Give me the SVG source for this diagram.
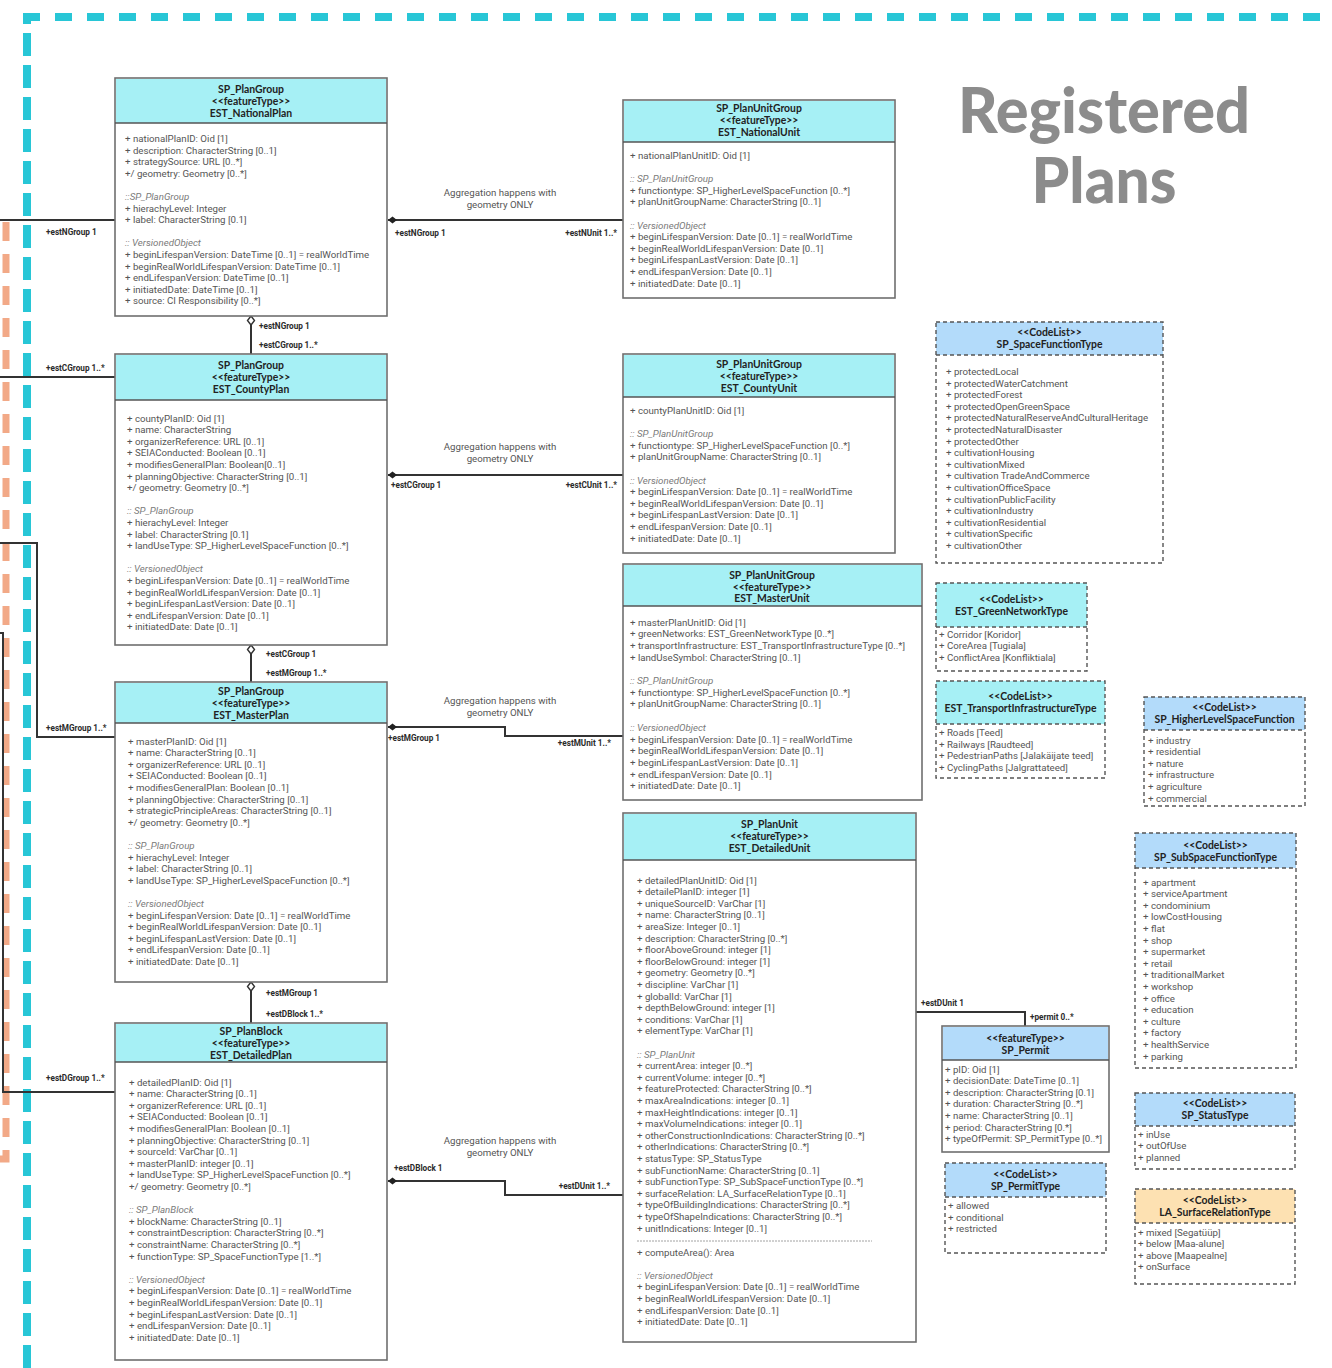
<svg xmlns="http://www.w3.org/2000/svg" width="1332" height="1368" viewBox="0 0 1332 1368">
<style>
.box{fill:#fff;stroke:#6f6f6f;stroke-width:1.6}
.sep{stroke:#555;stroke-width:1.4}
.ft{fill:#a6f0f5}
.bl{fill:#b3dbfa}
.or{fill:#fde1b2}
.cl{fill:none;stroke:#555;stroke-width:1.4;stroke-dasharray:4 3}
.clsep{stroke:#555;stroke-width:1.6;stroke-dasharray:4 3}
.h{font-family:Lato,"Open Sans",sans-serif;font-weight:700;font-size:10.4px;fill:#222;text-anchor:middle}
.a{font-family:Roboto,"Liberation Sans",sans-serif;font-size:9.7px;fill:#555}
.i{font-style:italic;fill:#7a7a7a}
.lb{font-family:Roboto,"Liberation Sans",sans-serif;font-weight:700;font-size:8.2px;fill:#2a2a2a}
.nt{font-family:Roboto,"Liberation Sans",sans-serif;font-size:9.7px;fill:#555;text-anchor:middle}
.w{fill:none;stroke:#333;stroke-width:2}
.dm{fill:#222}
.od{fill:#fff;stroke:#333;stroke-width:1.4}
.title{font-family:Lato,"Open Sans",sans-serif;font-weight:900;font-size:62px;fill:#8c8c8c;text-anchor:middle}
</style>
<defs>
<path id="fdia" d="M0,0 l4.5,-3.5 l4.5,3.5 l-4.5,3.5 z"/>
<path id="odia" d="M0,0 l3.5,4.5 l-3.5,4.5 l-3.5,-4.5 z"/>
</defs>

<!-- package frame -->
<g id="frame">
<line x1="27" y1="1368" x2="27" y2="21" stroke="#28c6d6" stroke-width="8" stroke-dasharray="23 9"/>
<line x1="23" y1="17" x2="1332" y2="17" stroke="#28c6d6" stroke-width="8" stroke-dasharray="17 15"/>
<path d="M6,222 V1159 H0" fill="none" stroke="#f2a987" stroke-width="7" stroke-dasharray="19 13"/>
</g>

<g id="title">
<text class="title" x="1104" y="133" textLength="292" lengthAdjust="spacingAndGlyphs">Registered</text>
<text class="title" x="1104" y="203" textLength="145" lengthAdjust="spacingAndGlyphs">Plans</text>
</g>

<!-- associations -->
<g id="connectors">
<line class="w" x1="0" y1="220" x2="115" y2="220"/>
<line class="w" x1="0" y1="377" x2="115" y2="377"/>
<path class="w" d="M0,543 H37 V737 H115"/>
<path class="w" d="M0,633 H3 V1092 H115"/>
<text class="lb" x="46" y="234.5">+estNGroup 1</text>
<text class="lb" x="46" y="370.5">+estCGroup 1..*</text>
<text class="lb" x="46" y="731">+estMGroup 1..*</text>
<text class="lb" x="46" y="1081">+estDGroup 1..*</text>

<line class="w" x1="251" y1="316" x2="251" y2="354"/>
<line class="w" x1="251" y1="645" x2="251" y2="682"/>
<line class="w" x1="251" y1="982" x2="251" y2="1023"/>
<use href="#odia" x="251" y="316" class="od"/>
<use href="#odia" x="251" y="645" class="od"/>
<use href="#odia" x="251" y="982" class="od"/>
<text class="lb" x="259" y="328.5">+estNGroup 1</text>
<text class="lb" x="259" y="347.5">+estCGroup 1..*</text>
<text class="lb" x="266" y="656.5">+estCGroup 1</text>
<text class="lb" x="266" y="676">+estMGroup 1..*</text>
<text class="lb" x="266" y="996">+estMGroup 1</text>
<text class="lb" x="266" y="1016.5">+estDBlock 1..*</text>

<line class="w" x1="388" y1="220" x2="623" y2="220"/>
<use href="#fdia" x="388" y="220" class="dm"/>
<text class="lb" x="395" y="235.5">+estNGroup 1</text>
<text class="lb" x="617" y="235.5" text-anchor="end">+estNUnit 1..*</text>
<text class="nt" x="500" y="195.5">Aggregation happens with</text>
<text class="nt" x="500" y="207.5">geometry ONLY</text>

<line class="w" x1="388" y1="475" x2="623" y2="475"/>
<use href="#fdia" x="388" y="475" class="dm"/>
<text class="lb" x="391" y="488">+estCGroup 1</text>
<text class="lb" x="617" y="488" text-anchor="end">+estCUnit 1..*</text>
<text class="nt" x="500" y="450">Aggregation happens with</text>
<text class="nt" x="500" y="461.5">geometry ONLY</text>

<path class="w" d="M388,727 H505 V736 H623"/>
<use href="#fdia" x="388" y="727" class="dm"/>
<text class="lb" x="388" y="741">+estMGroup 1</text>
<text class="lb" x="611" y="746" text-anchor="end">+estMUnit 1..*</text>
<text class="nt" x="500" y="703.5">Aggregation happens with</text>
<text class="nt" x="500" y="715.5">geometry ONLY</text>

<path class="w" d="M388,1181 H505 V1195 H623"/>
<use href="#fdia" x="388" y="1181" class="dm"/>
<text class="lb" x="394" y="1171">+estDBlock 1</text>
<text class="lb" x="610" y="1188.5" text-anchor="end">+estDUnit 1..*</text>
<text class="nt" x="500" y="1143.5">Aggregation happens with</text>
<text class="nt" x="500" y="1155.5">geometry ONLY</text>

<path class="w" d="M916,1012 H1025 V1026"/>
<text class="lb" x="921" y="1005.5">+estDUnit 1</text>
<text class="lb" x="1030" y="1019.5">+permit 0..*</text>
</g>

<!-- feature types: plans -->
<g id="EST_NationalPlan">
<rect class="box" x="115" y="78" width="272" height="238"/>
<rect class="ft" x="116" y="79" width="270" height="44"/>
<line class="sep" x1="115" y1="123" x2="387" y2="123"/>
<text class="h" x="251" y="92.5">SP_PlanGroup</text>
<text class="h" x="251" y="104.5">&lt;&lt;featureType&gt;&gt;</text>
<text class="h" x="251" y="116.5">EST_NationalPlan</text>
<text class="a" x="125" y="142"><tspan x="125">+ nationalPlanID: Oid [1]</tspan><tspan x="125" dy="11.6">+ description: CharacterString [0..1]</tspan><tspan x="125" dy="11.6">+ strategySource: URL [0..*]</tspan><tspan x="125" dy="11.6">+/ geometry: Geometry [0..*]</tspan><tspan x="125" dy="23.2" class="i">::SP_PlanGroup</tspan><tspan x="125" dy="11.6">+ hierachyLevel: Integer</tspan><tspan x="125" dy="11.6">+ label: CharacterString [0.1]</tspan><tspan x="125" dy="23.2" class="i">:: VersionedObject</tspan><tspan x="125" dy="11.6">+ beginLifespanVersion: DateTime [0..1] = realWorldTime</tspan><tspan x="125" dy="11.6">+ beginRealWorldLifespanVersion: DateTime [0..1]</tspan><tspan x="125" dy="11.6">+ endLifespanVersion: DateTime [0..1]</tspan><tspan x="125" dy="11.6">+ initiatedDate: DateTime [0..1]</tspan><tspan x="125" dy="11.6">+ source: CI Responsibility [0..*]</tspan></text>
</g>

<g id="EST_CountyPlan">
<rect class="box" x="115" y="354" width="272" height="291"/>
<rect class="ft" x="116" y="355" width="270" height="45"/>
<line class="sep" x1="115" y1="400" x2="387" y2="400"/>
<text class="h" x="251" y="368.5">SP_PlanGroup</text>
<text class="h" x="251" y="380.5">&lt;&lt;featureType&gt;&gt;</text>
<text class="h" x="251" y="392.5">EST_CountyPlan</text>
<text class="a" x="127" y="421.5"><tspan x="127">+ countyPlanID: Oid [1]</tspan><tspan x="127" dy="11.6">+ name: CharacterString</tspan><tspan x="127" dy="11.6">+ organizerReference: URL [0..1]</tspan><tspan x="127" dy="11.6">+ SEIAConducted: Boolean [0..1]</tspan><tspan x="127" dy="11.6">+ modifiesGeneralPlan: Boolean[0..1]</tspan><tspan x="127" dy="11.6">+ planningObjective: CharacterString [0..1]</tspan><tspan x="127" dy="11.6">+/ geometry: Geometry [0..*]</tspan><tspan x="127" dy="23.2" class="i">:: SP_PlanGroup</tspan><tspan x="127" dy="11.6">+ hierachyLevel: Integer</tspan><tspan x="127" dy="11.6">+ label: CharacterString [0.1]</tspan><tspan x="127" dy="11.6">+ landUseType: SP_HigherLevelSpaceFunction [0..*]</tspan><tspan x="127" dy="23.2" class="i">:: VersionedObject</tspan><tspan x="127" dy="11.6">+ beginLifespanVersion: Date [0..1] = realWorldTime</tspan><tspan x="127" dy="11.6">+ beginRealWorldLifespanVersion: Date [0..1]</tspan><tspan x="127" dy="11.6">+ beginLifespanLastVersion: Date [0..1]</tspan><tspan x="127" dy="11.6">+ endLifespanVersion: Date [0..1]</tspan><tspan x="127" dy="11.6">+ initiatedDate: Date [0..1]</tspan></text>
</g>

<g id="EST_MasterPlan">
<rect class="box" x="115" y="682" width="272" height="300"/>
<rect class="ft" x="116" y="683" width="270" height="40"/>
<line class="sep" x1="115" y1="723" x2="387" y2="723"/>
<text class="h" x="251" y="694.5">SP_PlanGroup</text>
<text class="h" x="251" y="706.5">&lt;&lt;featureType&gt;&gt;</text>
<text class="h" x="251" y="718.5">EST_MasterPlan</text>
<text class="a" x="128" y="744.5"><tspan x="128">+ masterPlanID: Oid [1]</tspan><tspan x="128" dy="11.6">+ name: CharacterString [0..1]</tspan><tspan x="128" dy="11.6">+ organizerReference: URL [0..1]</tspan><tspan x="128" dy="11.6">+ SEIAConducted: Boolean [0..1]</tspan><tspan x="128" dy="11.6">+ modifiesGeneralPlan: Boolean [0..1]</tspan><tspan x="128" dy="11.6">+ planningObjective: CharacterString [0..1]</tspan><tspan x="128" dy="11.6">+ strategicPrincipleAreas: CharacterString [0..1]</tspan><tspan x="128" dy="11.6">+/ geometry: Geometry [0..*]</tspan><tspan x="128" dy="23.2" class="i">:: SP_PlanGroup</tspan><tspan x="128" dy="11.6">+ hierachyLevel: Integer</tspan><tspan x="128" dy="11.6">+ label: CharacterString [0..1]</tspan><tspan x="128" dy="11.6">+ landUseType: SP_HigherLevelSpaceFunction [0..*]</tspan><tspan x="128" dy="23.2" class="i">:: VersionedObject</tspan><tspan x="128" dy="11.6">+ beginLifespanVersion: Date [0..1] = realWorldTime</tspan><tspan x="128" dy="11.6">+ beginRealWorldLifespanVersion: Date [0..1]</tspan><tspan x="128" dy="11.6">+ beginLifespanLastVersion: Date [0..1]</tspan><tspan x="128" dy="11.6">+ endLifespanVersion: Date [0..1]</tspan><tspan x="128" dy="11.6">+ initiatedDate: Date [0..1]</tspan></text>
</g>

<g id="EST_DetailedPlan">
<rect class="box" x="115" y="1023" width="272" height="337"/>
<rect class="ft" x="116" y="1024" width="270" height="38"/>
<line class="sep" x1="115" y1="1062" x2="387" y2="1062"/>
<text class="h" x="251" y="1034.5">SP_PlanBlock</text>
<text class="h" x="251" y="1046.5">&lt;&lt;featureType&gt;&gt;</text>
<text class="h" x="251" y="1058.5">EST_DetailedPlan</text>
<text class="a" x="129" y="1085.5"><tspan x="129">+ detailedPlanID: Oid [1]</tspan><tspan x="129" dy="11.6">+ name: CharacterString [0..1]</tspan><tspan x="129" dy="11.6">+ organizerReference: URL [0..1]</tspan><tspan x="129" dy="11.6">+ SEIAConducted: Boolean [0..1]</tspan><tspan x="129" dy="11.6">+ modifiesGeneralPlan: Boolean [0..1]</tspan><tspan x="129" dy="11.6">+ planningObjective: CharacterString [0..1]</tspan><tspan x="129" dy="11.6">+ sourceId: VarChar [0..1]</tspan><tspan x="129" dy="11.6">+ masterPlanID: integer [0..1]</tspan><tspan x="129" dy="11.6">+ landUseType: SP_HigherLevelSpaceFunction [0..*]</tspan><tspan x="129" dy="11.6">+/ geometry: Geometry [0..*]</tspan><tspan x="129" dy="23.2" class="i">:: SP_PlanBlock</tspan><tspan x="129" dy="11.6">+ blockName: CharacterString [0..1]</tspan><tspan x="129" dy="11.6">+ constraintDescription: CharacterString [0..*]</tspan><tspan x="129" dy="11.6">+ constraintName: CharacterString [0..*]</tspan><tspan x="129" dy="11.6">+ functionType: SP_SpaceFunctionType [1..*]</tspan><tspan x="129" dy="23.2" class="i">:: VersionedObject</tspan><tspan x="129" dy="11.6">+ beginLifespanVersion: Date [0..1] = realWorldTime</tspan><tspan x="129" dy="11.6">+ beginRealWorldLifespanVersion: Date [0..1]</tspan><tspan x="129" dy="11.6">+ beginLifespanLastVersion: Date [0..1]</tspan><tspan x="129" dy="11.6">+ endLifespanVersion: Date [0..1]</tspan><tspan x="129" dy="11.6">+ initiatedDate: Date [0..1]</tspan></text>
</g>

<!-- feature types: units -->
<g id="EST_NationalUnit">
<rect class="box" x="623" y="100" width="272" height="198"/>
<rect class="ft" x="624" y="101" width="270" height="41"/>
<line class="sep" x1="623" y1="142" x2="895" y2="142"/>
<text class="h" x="759" y="112">SP_PlanUnitGroup</text>
<text class="h" x="759" y="124">&lt;&lt;featureType&gt;&gt;</text>
<text class="h" x="759" y="136">EST_NationalUnit</text>
<text class="a" x="630" y="159"><tspan x="630">+ nationalPlanUnitID: Oid [1]</tspan><tspan x="630" dy="23.2" class="i">:: SP_PlanUnitGroup</tspan><tspan x="630" dy="11.6">+ functiontype: SP_HigherLevelSpaceFunction [0..*]</tspan><tspan x="630" dy="11.6">+ planUnitGroupName: CharacterString [0..1]</tspan><tspan x="630" dy="23.2" class="i">:: VersionedObject</tspan><tspan x="630" dy="11.6">+ beginLifespanVersion: Date [0..1] = realWorldTime</tspan><tspan x="630" dy="11.6">+ beginRealWorldLifespanVersion: Date [0..1]</tspan><tspan x="630" dy="11.6">+ beginLifespanLastVersion: Date [0..1]</tspan><tspan x="630" dy="11.6">+ endLifespanVersion: Date [0..1]</tspan><tspan x="630" dy="11.6">+ initiatedDate: Date [0..1]</tspan></text>
</g>

<g id="EST_CountyUnit">
<rect class="box" x="623" y="354" width="272" height="199"/>
<rect class="ft" x="624" y="355" width="270" height="42"/>
<line class="sep" x1="623" y1="397" x2="895" y2="397"/>
<text class="h" x="759" y="367.5">SP_PlanUnitGroup</text>
<text class="h" x="759" y="379.5">&lt;&lt;featureType&gt;&gt;</text>
<text class="h" x="759" y="391.5">EST_CountyUnit</text>
<text class="a" x="630" y="414"><tspan x="630">+ countyPlanUnitID: Oid [1]</tspan><tspan x="630" dy="23.2" class="i">:: SP_PlanUnitGroup</tspan><tspan x="630" dy="11.6">+ functiontype: SP_HigherLevelSpaceFunction [0..*]</tspan><tspan x="630" dy="11.6">+ planUnitGroupName: CharacterString [0..1]</tspan><tspan x="630" dy="23.2" class="i">:: VersionedObject</tspan><tspan x="630" dy="11.6">+ beginLifespanVersion: Date [0..1] = realWorldTime</tspan><tspan x="630" dy="11.6">+ beginRealWorldLifespanVersion: Date [0..1]</tspan><tspan x="630" dy="11.6">+ beginLifespanLastVersion: Date [0..1]</tspan><tspan x="630" dy="11.6">+ endLifespanVersion: Date [0..1]</tspan><tspan x="630" dy="11.6">+ initiatedDate: Date [0..1]</tspan></text>
</g>

<g id="EST_MasterUnit">
<rect class="box" x="623" y="564" width="299" height="236"/>
<rect class="ft" x="624" y="565" width="297" height="41"/>
<line class="sep" x1="623" y1="606" x2="922" y2="606"/>
<text class="h" x="772" y="578.5">SP_PlanUnitGroup</text>
<text class="h" x="772" y="590.5">&lt;&lt;featureType&gt;&gt;</text>
<text class="h" x="772" y="602">EST_MasterUnit</text>
<text class="a" x="630" y="625.5"><tspan x="630">+ masterPlanUnitID: Oid [1]</tspan><tspan x="630" dy="11.7">+ greenNetworks: EST_GreenNetworkType [0..*]</tspan><tspan x="630" dy="11.7">+ transportInfrastructure: EST_TransportInfrastructureType [0..*]</tspan><tspan x="630" dy="11.7">+ landUseSymbol: CharacterString [0..1]</tspan><tspan x="630" dy="23.4" class="i">:: SP_PlanUnitGroup</tspan><tspan x="630" dy="11.7">+ functiontype: SP_HigherLevelSpaceFunction [0..*]</tspan><tspan x="630" dy="11.7">+ planUnitGroupName: CharacterString [0..1]</tspan><tspan x="630" dy="23.4" class="i">:: VersionedObject</tspan><tspan x="630" dy="11.7">+ beginLifespanVersion: Date [0..1] = realWorldTime</tspan><tspan x="630" dy="11.7">+ beginRealWorldLifespanVersion: Date [0..1]</tspan><tspan x="630" dy="11.7">+ beginLifespanLastVersion: Date [0..1]</tspan><tspan x="630" dy="11.7">+ endLifespanVersion: Date [0..1]</tspan><tspan x="630" dy="11.7">+ initiatedDate: Date [0..1]</tspan></text>
</g>

<g id="EST_DetailedUnit">
<rect class="box" x="623" y="813" width="293" height="529"/>
<rect class="ft" x="624" y="814" width="291" height="46"/>
<line class="sep" x1="623" y1="860" x2="916" y2="860"/>
<text class="h" x="769.5" y="827.5">SP_PlanUnit</text>
<text class="h" x="769.5" y="839.5">&lt;&lt;featureType&gt;&gt;</text>
<text class="h" x="769.5" y="851.5">EST_DetailedUnit</text>
<text class="a" x="637" y="883.5"><tspan x="637">+ detailedPlanUnitID: Oid [1]</tspan><tspan x="637" dy="11.6">+ detailePlanID: integer [1]</tspan><tspan x="637" dy="11.6">+ uniqueSourceID: VarChar [1]</tspan><tspan x="637" dy="11.6">+ name: CharacterString [0..1]</tspan><tspan x="637" dy="11.6">+ areaSize: Integer [0..1]</tspan><tspan x="637" dy="11.6">+ description: CharacterString [0..*]</tspan><tspan x="637" dy="11.6">+ floorAboveGround: integer [1]</tspan><tspan x="637" dy="11.6">+ floorBelowGround: integer [1]</tspan><tspan x="637" dy="11.6">+ geometry: Geometry [0..*]</tspan><tspan x="637" dy="11.6">+ discipline: VarChar [1]</tspan><tspan x="637" dy="11.6">+ globalId: VarChar [1]</tspan><tspan x="637" dy="11.6">+ depthBelowGround: integer [1]</tspan><tspan x="637" dy="11.6">+ conditions: VarChar [1]</tspan><tspan x="637" dy="11.6">+ elementType: VarChar [1]</tspan><tspan x="637" dy="23.2" class="i">:: SP_PlanUnit</tspan><tspan x="637" dy="11.6">+ currentArea: integer [0..*]</tspan><tspan x="637" dy="11.6">+ currentVolume: integer [0..*]</tspan><tspan x="637" dy="11.6">+ featureProtected: CharacterString [0..*]</tspan><tspan x="637" dy="11.6">+ maxAreaIndications: integer [0..1]</tspan><tspan x="637" dy="11.6">+ maxHeightIndications: integer [0..1]</tspan><tspan x="637" dy="11.6">+ maxVolumeIndications: integer [0..1]</tspan><tspan x="637" dy="11.6">+ otherConstructionIndications: CharacterString [0..*]</tspan><tspan x="637" dy="11.6">+ otherIndications: CharacterString [0..*]</tspan><tspan x="637" dy="11.6">+ statusType: SP_StatusType</tspan><tspan x="637" dy="11.6">+ subFunctionName: CharacterString [0..1]</tspan><tspan x="637" dy="11.6">+ subFunctionType: SP_SubSpaceFunctionType [0..*]</tspan><tspan x="637" dy="11.6">+ surfaceRelation: LA_SurfaceRelationType [0..1]</tspan><tspan x="637" dy="11.6">+ typeOfBuildingIndications: CharacterString [0..*]</tspan><tspan x="637" dy="11.6">+ typeOfShapeIndications: CharacterString [0..*]</tspan><tspan x="637" dy="11.6">+ unitIndications: Integer [0..1]</tspan></text>
<line x1="637" y1="1241" x2="872" y2="1241" stroke="#8a8a8a" stroke-width="0.8" stroke-dasharray="2 1"/>
<text class="a" x="637" y="1255.5"><tspan x="637">+ computeArea(): Area</tspan><tspan x="637" dy="23.2" class="i">:: VersionedObject</tspan><tspan x="637" dy="11.6">+ beginLifespanVersion: Date [0..1] = realWorldTime</tspan><tspan x="637" dy="11.6">+ beginRealWorldLifespanVersion: Date [0..1]</tspan><tspan x="637" dy="11.6">+ endLifespanVersion: Date [0..1]</tspan><tspan x="637" dy="11.6">+ initiatedDate: Date [0..1]</tspan></text>
</g>

<g id="SP_Permit">
<rect class="box" x="942" y="1026" width="167" height="126"/>
<rect class="bl" x="943" y="1027" width="165" height="33"/>
<line class="sep" x1="942" y1="1060" x2="1109" y2="1060"/>
<text class="h" x="1025.5" y="1041.5">&lt;&lt;featureType&gt;&gt;</text>
<text class="h" x="1025.5" y="1053.5">SP_Permit</text>
<text class="a" x="945" y="1072.5"><tspan x="945">+ pID: Oid [1]</tspan><tspan x="945" dy="11.6">+ decisionDate: DateTime [0..1]</tspan><tspan x="945" dy="11.6">+ description: CharacterString [0.1]</tspan><tspan x="945" dy="11.6">+ duration: CharacterString [0..*]</tspan><tspan x="945" dy="11.6">+ name: CharacterString [0..1]</tspan><tspan x="945" dy="11.6">+ period: CharacterString [0.*]</tspan><tspan x="945" dy="11.6">+ typeOfPermit: SP_PermitType [0..*]</tspan></text>
</g>

<!-- code lists -->
<g id="SP_SpaceFunctionType">
<rect class="bl" x="936" y="322" width="227" height="33"/>
<line class="clsep" x1="936" y1="355" x2="1163" y2="355"/>
<rect class="cl" x="936" y="322" width="227" height="241"/>
<text class="h" x="1049.5" y="336">&lt;&lt;CodeList&gt;&gt;</text>
<text class="h" x="1049.5" y="348">SP_SpaceFunctionType</text>
<text class="a" x="946" y="375"><tspan x="946">+ protectedLocal</tspan><tspan x="946" dy="11.6">+ protectedWaterCatchment</tspan><tspan x="946" dy="11.6">+ protectedForest</tspan><tspan x="946" dy="11.6">+ protectedOpenGreenSpace</tspan><tspan x="946" dy="11.6">+ protectedNaturalReserveAndCulturalHeritage</tspan><tspan x="946" dy="11.6">+ protectedNaturalDisaster</tspan><tspan x="946" dy="11.6">+ protectedOther</tspan><tspan x="946" dy="11.6">+ cultivationHousing</tspan><tspan x="946" dy="11.6">+ cultivationMixed</tspan><tspan x="946" dy="11.6">+ cultivation TradeAndCommerce</tspan><tspan x="946" dy="11.6">+ cultivationOfficeSpace</tspan><tspan x="946" dy="11.6">+ cultivationPublicFacility</tspan><tspan x="946" dy="11.6">+ cultivationIndustry</tspan><tspan x="946" dy="11.6">+ cultivationResidential</tspan><tspan x="946" dy="11.6">+ cultivationSpecific</tspan><tspan x="946" dy="11.6">+ cultivationOther</tspan></text>
</g>

<g id="EST_GreenNetworkType">
<rect class="ft" x="936" y="583" width="151" height="44"/>
<line class="clsep" x1="936" y1="627" x2="1087" y2="627"/>
<rect class="cl" x="936" y="583" width="151" height="88"/>
<text class="h" x="1011.5" y="602.5">&lt;&lt;CodeList&gt;&gt;</text>
<text class="h" x="1011.5" y="614.5">EST_GreenNetworkType</text>
<text class="a" x="939" y="637.5"><tspan x="939">+ Corridor [Koridor]</tspan><tspan x="939" dy="11.6">+ CoreArea [Tugiala]</tspan><tspan x="939" dy="11.6">+ ConflictArea [Konfliktiala]</tspan></text>
</g>

<g id="EST_TransportInfrastructureType">
<rect class="ft" x="936" y="681" width="169" height="43"/>
<line class="clsep" x1="936" y1="724" x2="1105" y2="724"/>
<rect class="cl" x="936" y="681" width="169" height="97"/>
<text class="h" x="1020.5" y="700">&lt;&lt;CodeList&gt;&gt;</text>
<text class="h" x="1020.5" y="712">EST_TransportInfrastructureType</text>
<text class="a" x="939" y="736"><tspan x="939">+ Roads [Teed]</tspan><tspan x="939" dy="11.6">+ Railways [Raudteed]</tspan><tspan x="939" dy="11.6">+ PedestrianPaths [Jalakäijate teed]</tspan><tspan x="939" dy="11.6">+ CyclingPaths [Jalgrattateed]</tspan></text>
</g>

<g id="SP_HigherLevelSpaceFunction">
<rect class="bl" x="1144" y="697" width="161" height="33"/>
<line class="clsep" x1="1144" y1="730" x2="1305" y2="730"/>
<rect class="cl" x="1144" y="697" width="161" height="109"/>
<text class="h" x="1224.5" y="711">&lt;&lt;CodeList&gt;&gt;</text>
<text class="h" x="1224.5" y="723">SP_HigherLevelSpaceFunction</text>
<text class="a" x="1148" y="743.5"><tspan x="1148">+ industry</tspan><tspan x="1148" dy="11.6">+ residential</tspan><tspan x="1148" dy="11.6">+ nature</tspan><tspan x="1148" dy="11.6">+ infrastructure</tspan><tspan x="1148" dy="11.6">+ agriculture</tspan><tspan x="1148" dy="11.6">+ commercial</tspan></text>
</g>

<g id="SP_SubSpaceFunctionType">
<rect class="bl" x="1135" y="833" width="161" height="35"/>
<line class="clsep" x1="1135" y1="868" x2="1296" y2="868"/>
<rect class="cl" x="1135" y="833" width="161" height="235"/>
<text class="h" x="1215.5" y="848.5">&lt;&lt;CodeList&gt;&gt;</text>
<text class="h" x="1215.5" y="860.5">SP_SubSpaceFunctionType</text>
<text class="a" x="1143" y="885.5"><tspan x="1143">+ apartment</tspan><tspan x="1143" dy="11.6">+ serviceApartment</tspan><tspan x="1143" dy="11.6">+ condominium</tspan><tspan x="1143" dy="11.6">+ lowCostHousing</tspan><tspan x="1143" dy="11.6">+ flat</tspan><tspan x="1143" dy="11.6">+ shop</tspan><tspan x="1143" dy="11.6">+ supermarket</tspan><tspan x="1143" dy="11.6">+ retail</tspan><tspan x="1143" dy="11.6">+ traditionalMarket</tspan><tspan x="1143" dy="11.6">+ workshop</tspan><tspan x="1143" dy="11.6">+ office</tspan><tspan x="1143" dy="11.6">+ education</tspan><tspan x="1143" dy="11.6">+ culture</tspan><tspan x="1143" dy="11.6">+ factory</tspan><tspan x="1143" dy="11.6">+ healthService</tspan><tspan x="1143" dy="11.6">+ parking</tspan></text>
</g>

<g id="SP_StatusType">
<rect class="bl" x="1135" y="1093" width="160" height="33"/>
<line class="clsep" x1="1135" y1="1126" x2="1295" y2="1126"/>
<rect class="cl" x="1135" y="1093" width="160" height="76"/>
<text class="h" x="1215" y="1106.5">&lt;&lt;CodeList&gt;&gt;</text>
<text class="h" x="1215" y="1118.5">SP_StatusType</text>
<text class="a" x="1138" y="1137.5"><tspan x="1138">+ inUse</tspan><tspan x="1138" dy="11.6">+ outOfUse</tspan><tspan x="1138" dy="11.6">+ planned</tspan></text>
</g>

<g id="LA_SurfaceRelationType">
<rect class="or" x="1135" y="1189" width="160" height="34"/>
<line class="clsep" x1="1135" y1="1223" x2="1295" y2="1223"/>
<rect class="cl" x="1135" y="1189" width="160" height="95"/>
<text class="h" x="1215" y="1203.5">&lt;&lt;CodeList&gt;&gt;</text>
<text class="h" x="1215" y="1215.5">LA_SurfaceRelationType</text>
<text class="a" x="1138" y="1235.5"><tspan x="1138">+ mixed [Segatüüp]</tspan><tspan x="1138" dy="11.6">+ below [Maa-alune]</tspan><tspan x="1138" dy="11.6">+ above [Maapealne]</tspan><tspan x="1138" dy="11.6">+ onSurface</tspan></text>
</g>

<g id="SP_PermitType">
<rect class="bl" x="945" y="1163" width="161" height="34"/>
<line class="clsep" x1="945" y1="1197" x2="1106" y2="1197"/>
<rect class="cl" x="945" y="1163" width="161" height="90"/>
<text class="h" x="1025.5" y="1177.5">&lt;&lt;CodeList&gt;&gt;</text>
<text class="h" x="1025.5" y="1189.5">SP_PermitType</text>
<text class="a" x="948" y="1209"><tspan x="948">+ allowed</tspan><tspan x="948" dy="11.6">+ conditional</tspan><tspan x="948" dy="11.6">+ restricted</tspan></text>
</g>
</svg>
